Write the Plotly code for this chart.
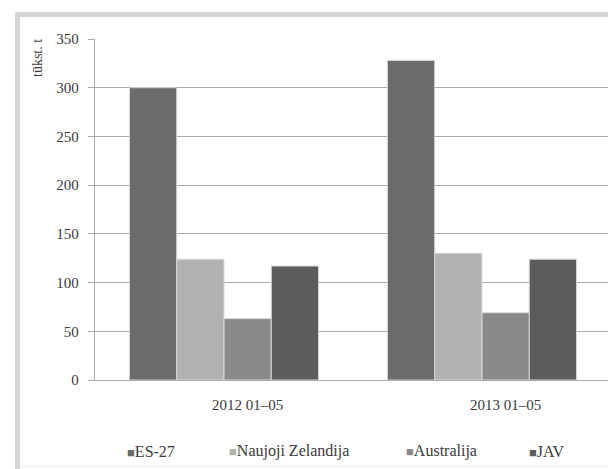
import plotly.graph_objects as go

# ---- data ----
categories = ["2012 01–05", "2013 01–05"]
series_names = ["ES-27", "Naujoji Zelandija", "Australija", "JAV"]
es27 = [300, 328]
naujoji_zelandija = [124, 130]
australija = [63, 69]
jav = [117, 124]
y_ticks = [0, 50, 100, 150, 200, 250, 300, 350]
y_title = "tūkst. t"

series_values = [es27, naujoji_zelandija, australija, jav]
colors = ["#6b6b6b", "#b1b1b1", "#8a8a8a", "#5c5c5c"]

OFF = 8  # page body margin
W, H = 616 - OFF, 469 - OFF
L, R, T, B = 87, 5, 31, 89
PW, PH = W - L - R, H - T - B


def px(x):
    return (x - OFF - L) / PW


def py(y):
    return (H - B - (y - OFF)) / PH


FONT = "Liberation Serif"
TXT = "#3a3a3a"
GRID = "#a9a9a9"

fig = go.Figure()
for name, vals, col in zip(series_names, series_values, colors):
    fig.add_trace(go.Bar(
        x=categories, y=vals, name=name,
        marker=dict(color=col, line=dict(color="#d8d8d8", width=1)),
        showlegend=False,
    ))

annotations = []
# category labels
for c in categories:
    annotations.append(dict(
        x=c, y=0, xref="x", yref="y", text=c, showarrow=False,
        xshift=23, yshift=-25, xanchor="center", yanchor="middle",
        font=dict(family=FONT, size=15, color=TXT),
    ))
# y title
annotations.append(dict(
    x=px(38), y=py(58), xref="paper", yref="paper", text=y_title,
    textangle=-90, showarrow=False, xanchor="center", yanchor="middle",
    font=dict(family=FONT, size=14, color=TXT),
))
# legend
leg_x = [125, 227, 404, 527]
for name, col, lx in zip(series_names, colors, leg_x):
    annotations.append(dict(
        x=px(lx), y=py(451), xref="paper", yref="paper",
        text=f"<span style='color:{col};font-size:13px'>■</span>{name}",
        showarrow=False, xanchor="left", yanchor="middle",
        font=dict(family=FONT, size=16, color=TXT),
    ))

shapes = [
    dict(type="rect", xref="paper", yref="paper", x0=px(15), x1=px(20), y0=py(469), y1=py(12),
         fillcolor="#d6d6d6", line=dict(width=0)),
    dict(type="rect", xref="paper", yref="paper", x0=px(15), x1=px(616), y0=py(17), y1=py(12),
         fillcolor="#d6d6d6", line=dict(width=0)),
    dict(type="line", xref="paper", yref="paper", x0=px(614), x1=px(614), y0=py(466), y1=py(17),
         line=dict(color="#e8e8e8", width=1)),
    dict(type="line", xref="paper", yref="paper", x0=px(20), x1=px(614), y0=py(466), y1=py(466),
         line=dict(color="#ececec", width=1)),
]

fig.update_layout(
    width=W, height=H,
    margin=dict(l=L, r=R, t=T, b=B),
    paper_bgcolor="white", plot_bgcolor="white",
    barmode="group", bargap=0.267, bargroupgap=0,
    font=dict(family=FONT, size=15, color=TXT),
    annotations=annotations, shapes=shapes,
    showlegend=False,
    xaxis=dict(showline=True, linecolor=GRID, linewidth=1.3, showticklabels=False,
               ticks="", showgrid=False),
    yaxis=dict(range=[0, 350], tickvals=y_ticks, showgrid=True, gridcolor=GRID, gridwidth=1.3,
               showline=True, linecolor=GRID, linewidth=1.3, ticks="outside", ticklen=6,
               tickcolor=GRID, tickwidth=1.3, zeroline=False, ticklabelstandoff=6,
               tickfont=dict(family=FONT, size=15, color=TXT)),
)

fig.write_html("out.html")
